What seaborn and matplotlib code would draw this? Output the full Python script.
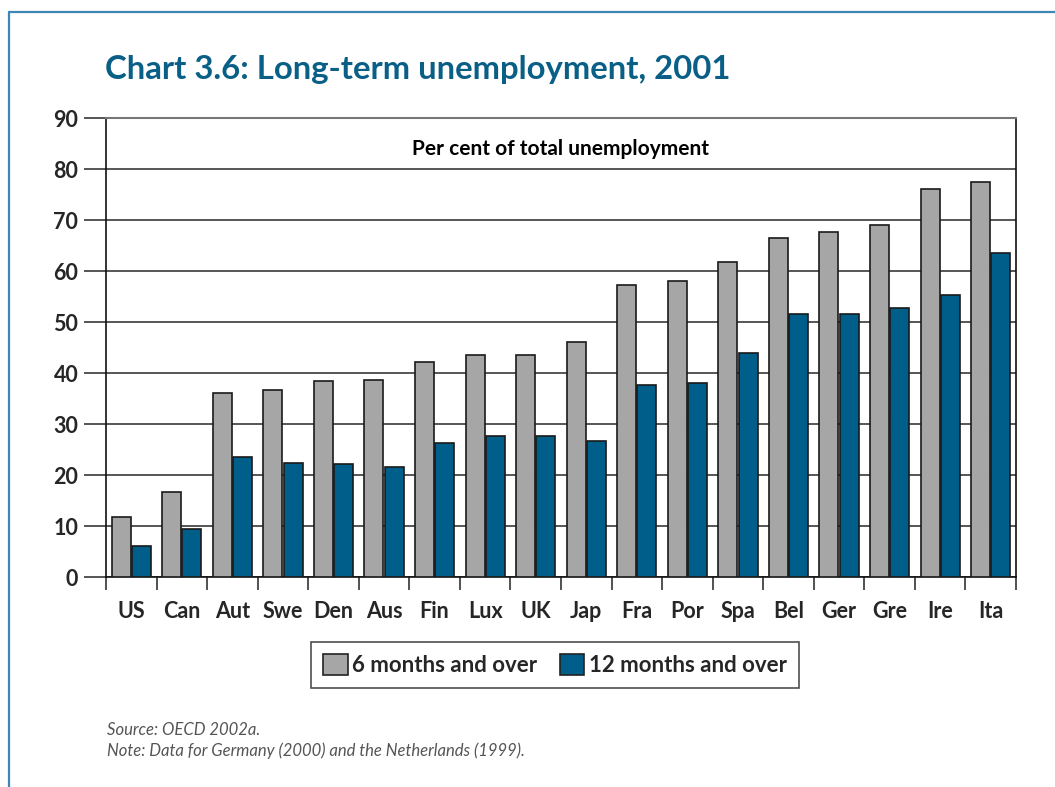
import matplotlib
matplotlib.use("Agg")
import matplotlib.pyplot as plt
import seaborn as sns
import pandas as pd
from matplotlib.lines import Line2D
from matplotlib.patches import Patch
from matplotlib.ticker import FixedLocator

countries = ["US", "Can", "Aut", "Swe", "Den", "Aus", "Fin", "Lux", "UK", "Jap",
             "Fra", "Por", "Spa", "Bel", "Ger", "Gre", "Ire", "Ita"]
six_months = [11.8, 16.7, 36.1, 36.7, 38.4, 38.7, 42.2, 43.5, 43.6, 46.1,
              57.2, 58.0, 61.8, 66.5, 67.6, 69.1, 76.0, 77.4]
twelve_months = [6.1, 9.4, 23.5, 22.3, 22.1, 21.5, 26.2, 27.6, 27.6, 26.6,
                 37.6, 38.1, 44.0, 51.6, 51.5, 52.8, 55.3, 63.5]
series_names = ["6 months and over", "12 months and over"]
yticks = [0, 10, 20, 30, 40, 50, 60, 70, 80, 90]

GRAY = "#a6a6a6"
BLUE = "#005e8a"
TITLE_BLUE = "#0a5f87"
FRAME = "#3c87b3"
WEIGHT = "bold"

df = pd.DataFrame({
    "country": countries * 2,
    "value": six_months + twelve_months,
    "series": [series_names[0]] * len(countries) + [series_names[1]] * len(countries),
})

sns.set_theme(style="white")
plt.rcParams["font.family"] = ["Lato", "DejaVu Sans"]

fig = plt.figure(figsize=(10.55, 7.87), dpi=100)
ax = fig.add_axes([0.1005, 0.2668, 0.8625, 0.5832])

sns.barplot(data=df, x="country", y="value", hue="series", order=countries,
            hue_order=series_names, palette=[GRAY, BLUE], saturation=1,
            width=0.8, gap=0.06, edgecolor="#1a1a1a", linewidth=1.2, ax=ax,
            legend=False, zorder=3)

ax.set_ylim(0, 90)
ax.set_xlim(-0.5, len(countries) - 0.5)
ax.set_yticks(yticks)
ax.yaxis.grid(True, color="#3a3a3a", linewidth=1.2, zorder=0)
ax.set_axisbelow(True)
ax.set_xlabel("")
ax.set_ylabel("")

for side in ["left", "right", "bottom"]:
    ax.spines[side].set_visible(True)
    ax.spines[side].set_color("#111111")
    ax.spines[side].set_linewidth(1.2)
ax.spines["top"].set_visible(True)
ax.spines["top"].set_color("#777777")
ax.spines["top"].set_linewidth(1.5)

ax.tick_params(axis="y", which="major", direction="out", length=16, width=1.4,
               color="#555555", labelsize=15.5, pad=4, left=True)
for lbl in ax.get_yticklabels():
    lbl.set_fontweight(WEIGHT)

ax.xaxis.set_minor_locator(FixedLocator([i - 0.5 for i in range(len(countries) + 1)]))
ax.tick_params(axis="x", which="minor", direction="out", length=9, width=1.2,
               color="#333333", bottom=True)
ax.tick_params(axis="x", which="major", length=0, labelsize=15.5, pad=17)
for lbl in ax.get_xticklabels():
    lbl.set_fontweight(WEIGHT)

ax.text(0.5, 0.932, "Per cent of total unemployment", transform=ax.transAxes,
        ha="center", va="center", fontsize=15, fontweight=WEIGHT, color="black")

fig.text(105 / 1055, 1 - 70 / 787, "Chart 3.6: Long-term unemployment, 2001",
         ha="left", va="center", fontsize=23.7, fontweight=WEIGHT, color=TITLE_BLUE)

handles = [Patch(facecolor=GRAY, edgecolor="#222222", linewidth=1.2),
           Patch(facecolor=BLUE, edgecolor="#222222", linewidth=1.2)]
leg = fig.legend(handles, series_names, loc="center",
                 bbox_to_anchor=(555 / 1055, 1 - 665 / 787), ncol=2,
                 frameon=True, fancybox=False, edgecolor="#222222",
                 prop={"weight": WEIGHT, "size": 16}, handlelength=1.1,
                 handleheight=1.1, handletextpad=0.2, columnspacing=1.0,
                 borderpad=0.55, borderaxespad=0)
leg.get_frame().set_linewidth(1.2)

fig.text(107 / 1055, 1 - 730 / 787, "Source: OECD 2002a.", ha="left", va="center",
         fontsize=12, style="italic", color="#555555")
fig.text(107 / 1055, 1 - 751 / 787,
         "Note: Data for Germany (2000) and the Netherlands (1999).",
         ha="left", va="center", fontsize=12, style="italic", color="#555555")

fig.add_artist(Line2D([9 / 1055, 9 / 1055], [0, 1 - 12 / 787],
                      transform=fig.transFigure, color=FRAME, linewidth=1.6))
fig.add_artist(Line2D([9 / 1055, 1], [1 - 12 / 787, 1 - 12 / 787],
                      transform=fig.transFigure, color=FRAME, linewidth=1.6))

fig.savefig("out.png", dpi=100)
